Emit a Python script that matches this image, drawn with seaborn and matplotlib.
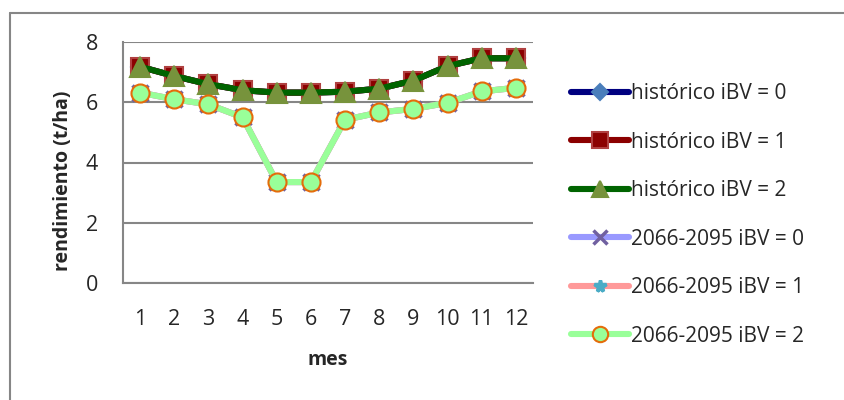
import matplotlib
matplotlib.use("Agg")
import matplotlib.pyplot as plt
from matplotlib.lines import Line2D
import seaborn as sns
import numpy as np

months = list(range(1, 13))
hist_0 = [7.18, 6.87, 6.6, 6.4, 6.32, 6.32, 6.35, 6.45, 6.72, 7.2, 7.46, 7.46]
hist_1 = [7.18, 6.87, 6.6, 6.4, 6.32, 6.32, 6.35, 6.45, 6.72, 7.2, 7.46, 7.46]
hist_2 = [7.18, 6.87, 6.6, 6.4, 6.32, 6.32, 6.35, 6.45, 6.72, 7.2, 7.46, 7.46]
fut_0 = [6.32, 6.1, 5.93, 5.5, 3.35, 3.35, 5.42, 5.66, 5.78, 5.98, 6.36, 6.48]
fut_1 = [6.32, 6.1, 5.93, 5.5, 3.35, 3.35, 5.42, 5.66, 5.78, 5.98, 6.36, 6.48]
fut_2 = [6.32, 6.1, 5.93, 5.5, 3.35, 3.35, 5.42, 5.66, 5.78, 5.98, 6.36, 6.48]
labels = ["histórico iBV = 0", "histórico iBV = 1", "histórico iBV = 2",
          "2066-2095 iBV = 0", "2066-2095 iBV = 1", "2066-2095 iBV = 2"]

sns.set_style("white")
plt.rcParams['font.family'] = ['Open Sans', 'DejaVu Sans']

fig = plt.figure(figsize=(8.45, 4.0), dpi=100)
ax = fig.add_axes([123/845, 1 - 283/400, 410/845, 241/400])

# line colour, marker, marker face, marker edge, size
styles = [
    ("#000080", "D", "#4a7ebb", "#4a7ebb", 9),
    ("#8b0000", "s", "#8b0000", "#b04040", 13),
    ("#006400", "^", "#77933c", "#77933c", 14),
    ("#9999ff", "x", "#9999ff", "#7060a0", 12),
    ("#ff9999", "*", "#4bacc6", "#4bacc6", 10),
    ("#99ff99", "o", "#99ff99", "#e46c0a", 13),
]
series = [hist_0, hist_1, hist_2, fut_0, fut_1, fut_2]

handles = []
for vals, lab, (lc, mk, mf, me, ms) in zip(series, labels, styles):
    mew = 1.5 if mk not in ("x", "*") else 2.5
    sns.lineplot(x=months, y=vals, ax=ax, color=lc, linewidth=4.4, marker=mk,
                 markersize=ms, markerfacecolor=mf, markeredgecolor=me,
                 markeredgewidth=mew, legend=False, zorder=3)
    handles.append(Line2D([], [], color=lc, linewidth=4.4, marker=mk,
                          markersize=ms * 0.85, markerfacecolor=mf,
                          markeredgecolor=me, markeredgewidth=mew, label=lab))

ax.set_xlim(0.5, 12.5)
ax.set_ylim(0, 8)
ax.set_yticks([0, 2, 4, 6, 8])
ax.set_xticks(months)
ax.set_xticks(np.arange(0.5, 13, 1), minor=True)
ax.tick_params(axis="x", which="major", length=0, pad=19, labelsize=15.5)
ax.tick_params(axis="x", which="minor", length=7, width=1.5, color="#868686")
ax.tick_params(axis="y", which="major", length=7, width=1.5, color="#868686",
               labelsize=15.5, pad=11)
ax.yaxis.grid(True, color="#868686", linewidth=1.5)
ax.set_axisbelow(True)
for s in ["top", "right"]:
    ax.spines[s].set_visible(False)
for s in ["left", "bottom"]:
    ax.spines[s].set_color("#868686")
    ax.spines[s].set_linewidth(1.5)

ax.set_xlabel("")
ax.set_ylabel("")
fig.text(328/845, 1 - 360/400, "mes", fontsize=14, fontweight="bold",
         ha="center", va="center")
fig.text(63/845, 1 - 181/400, "rendimiento (t/ha)", fontsize=14, fontweight="bold",
         ha="center", va="center", rotation=90)

fig.legend(handles=handles, loc="center left", bbox_to_anchor=(571/845, 1 - 215/400),
           frameon=False, fontsize=15, labelspacing=1.32, handlelength=2.8,
           handletextpad=0.1, borderaxespad=0, borderpad=0)

fig.add_artist(Line2D([10/845, 10/845], [0, 1 - 13/400], color="#868686", linewidth=1.5))
fig.add_artist(Line2D([10/845, 1], [1 - 13/400, 1 - 13/400], color="#868686", linewidth=1.5))

fig.savefig("out.png", dpi=100)
